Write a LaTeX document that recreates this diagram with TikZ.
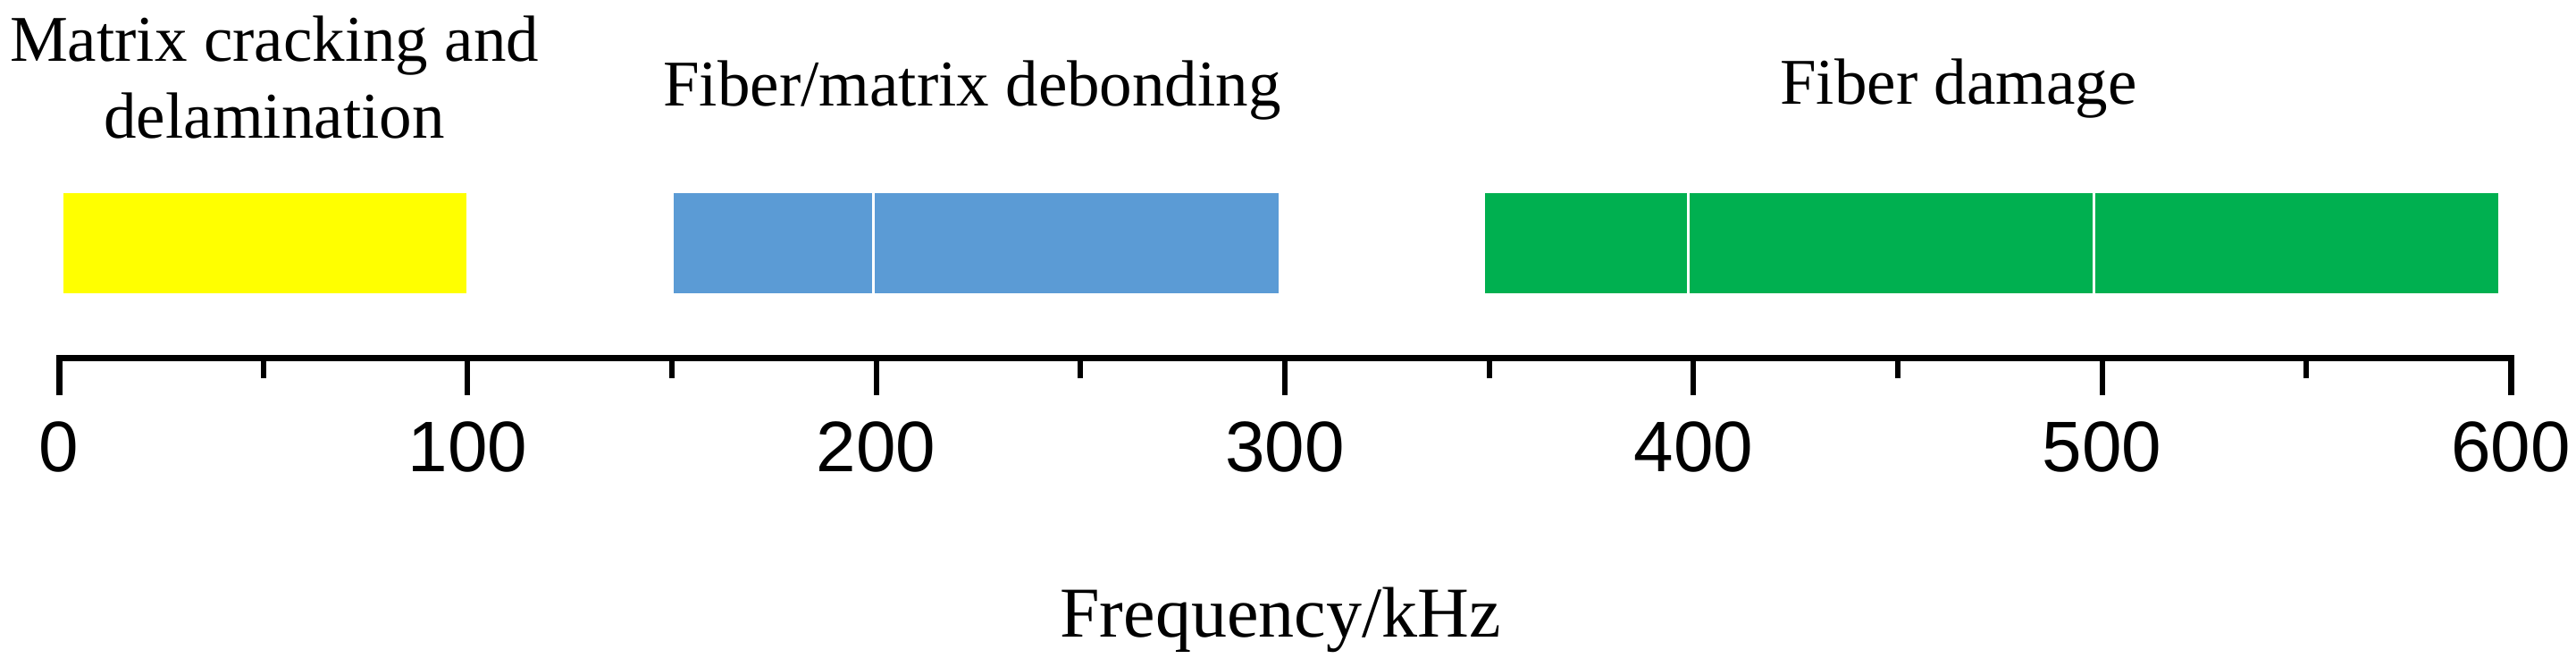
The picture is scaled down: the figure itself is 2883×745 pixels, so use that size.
\documentclass[tikz,border=0pt]{standalone}
\usepackage{fontspec}
\setmainfont{Liberation Serif}
\newfontfamily\arialfont{Liberation Sans}
\definecolor{yellowfill}{HTML}{FFFF00}
\definecolor{bluefill}{HTML}{5B9BD5}
\definecolor{greenfill}{HTML}{00B050}
\begin{document}
\begin{tikzpicture}[x=0.5pt,y=-0.5pt]
\useasboundingbox (0,0) rectangle (2883,745);
\tikzset{
  lbl/.style={anchor=base, inner sep=0pt, font=\fontsize{36.5}{43}\selectfont},
  axlbl/.style={anchor=base, inner sep=0pt, font=\fontsize{40}{48}\selectfont},
  ticklbl/.style={anchor=base, inner sep=0pt, font=\arialfont\fontsize{40}{48}\selectfont},
  axisline/.style={line width=3.5pt, line join=miter},
  majortick/.style={line width=3pt},
  minortick/.style={line width=3pt},
  sepline/.style={draw=white, line width=1.5pt}
}
% bars
\fill[fill=yellowfill] (71,216) rectangle (522,328);
\fill[fill=bluefill] (754,216) rectangle (1431,328);
\fill[fill=greenfill] (1662,216) rectangle (2796,328);
\draw[sepline] (977,216) -- (977,328);
\draw[sepline] (1889,216) -- (1889,328);
\draw[sepline] (2343,216) -- (2343,328);
% axis
\coordinate (a0) at (66,400);
\coordinate (a6) at (2810,400);
\draw[axisline] ([yshift=-42*0.5pt]a0) -- (a0) -- (a6) -- ([yshift=-42*0.5pt]a6);
\foreach \k in {1,...,5}{
  \draw[majortick] (66+\k*457.33,400) -- (66+\k*457.33,442);
}
\foreach \k in {0,...,5}{
  \draw[minortick] (66+\k*457.33+228.67,400) -- (66+\k*457.33+228.67,423);
}
\foreach \k/\v in {0/0,1/100,2/200,3/300,4/400,5/500,6/600}{
  \node[ticklbl] (t\k) at (66+\k*457.33,527) {\v};
}
% labels
\node[lbl] (mat1) at (307,68) {Matrix cracking and};
\node[lbl] (mat2) at (307,154) {delamination};
\node[lbl] (deb) at (1088,118) {Fiber/matrix debonding};
\node[lbl] (fib) at (2192,116) {Fiber damage};
\node[axlbl] (freq) at (1433,712) {Frequency/kHz};
\end{tikzpicture}
\end{document}
